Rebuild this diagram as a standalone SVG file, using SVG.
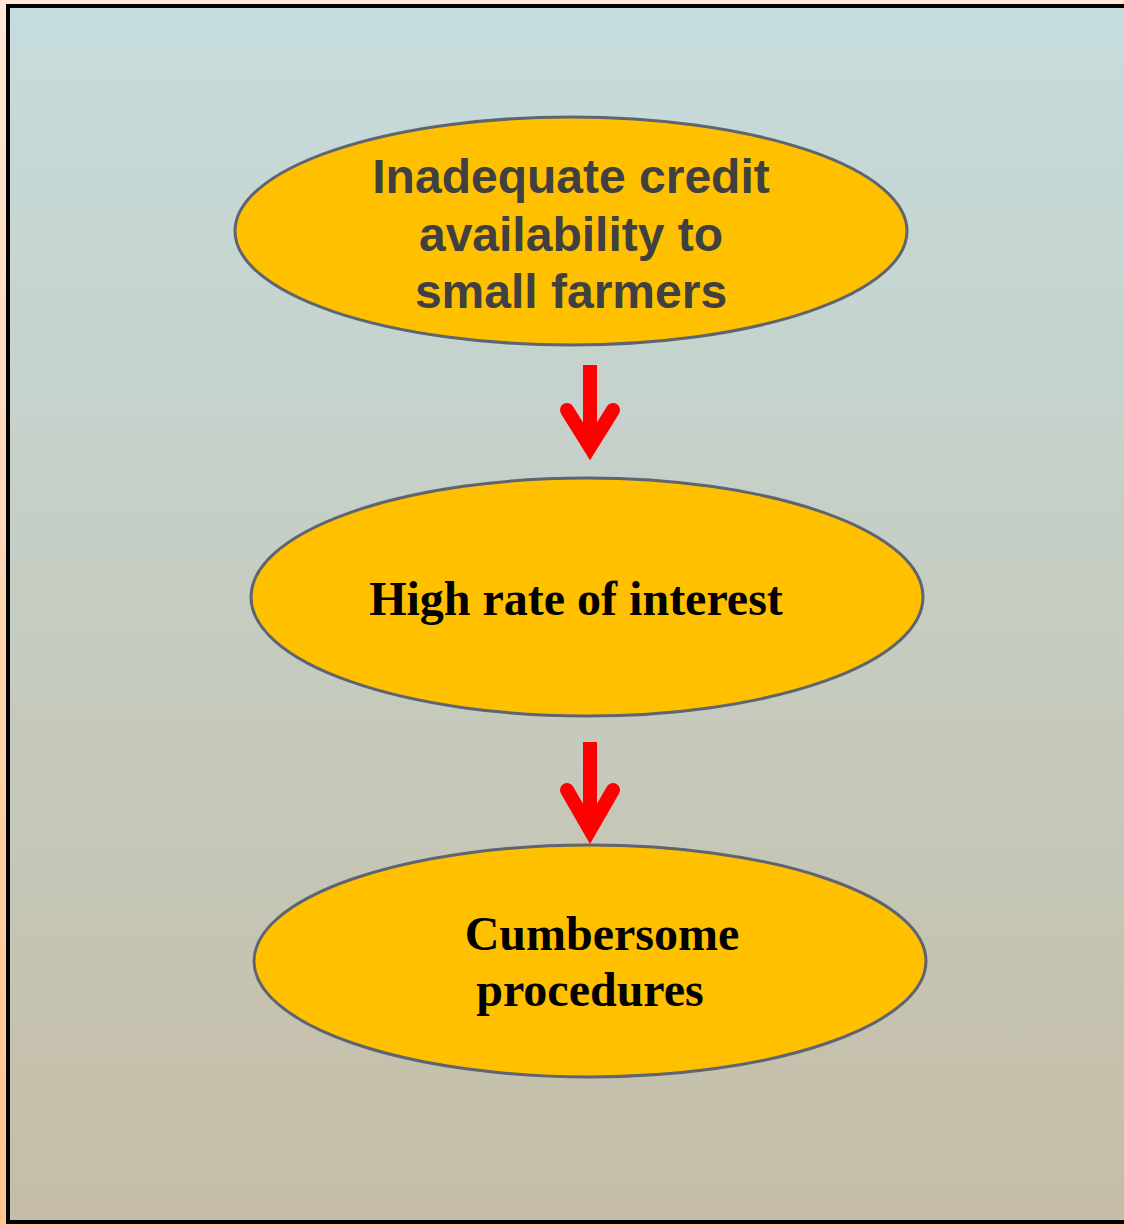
<svg xmlns="http://www.w3.org/2000/svg" width="1124" height="1225" viewBox="0 0 1124 1225">
  <defs>
    <linearGradient id="outer" x1="0" y1="0" x2="0" y2="1">
      <stop offset="0" stop-color="#FFE6D6"/>
      <stop offset="1" stop-color="#FFC58C"/>
    </linearGradient>
    <linearGradient id="panel" x1="0" y1="0" x2="0" y2="1">
      <stop offset="0" stop-color="#C6DCDD"/>
      <stop offset="1" stop-color="#C5BDA6"/>
    </linearGradient>
    <style>
      .node { fill: #FFC000; stroke: #5E6470; stroke-width: 3; }
      .sans { font-family: "Liberation Sans", Arial, sans-serif; font-weight: bold; font-size: 48px; fill: #404040; text-anchor: middle; }
      .serif { font-family: "Liberation Serif", "Times New Roman", serif; font-weight: bold; font-size: 48px; fill: #000000; text-anchor: middle; }
      .arrow { fill: none; stroke: #FF0000; stroke-width: 14; }
    </style>
  </defs>
  <rect x="0" y="0" width="1124" height="1225" fill="url(#outer)"/>
  <rect x="8" y="6" width="1122" height="1216" fill="url(#panel)" stroke="#000000" stroke-width="4"/>

  <g id="connectors">
    <g id="arrow1">
      <path class="arrow" d="M590,365 V444" stroke-linecap="butt"/>
      <path class="arrow" d="M567,410 L590,447 L613,410" stroke-linecap="round" stroke-linejoin="miter" stroke-miterlimit="10"/>
    </g>
    <g id="arrow2">
      <path class="arrow" d="M590,742 V826" stroke-linecap="butt"/>
      <path class="arrow" d="M567,790 L590,830 L613,790" stroke-linecap="round" stroke-linejoin="miter" stroke-miterlimit="10"/>
    </g>
  </g>

  <g id="node1">
    <ellipse class="node" cx="571" cy="231" rx="336" ry="114"/>
    <text class="sans" x="571" y="193">Inadequate credit</text>
    <text class="sans" x="571" y="251">availability to</text>
    <text class="sans" x="571" y="308">small farmers</text>
  </g>
  <g id="node2">
    <ellipse class="node" cx="587" cy="597" rx="336" ry="119"/>
    <text class="serif" x="576" y="615">High rate of interest</text>
  </g>
  <g id="node3">
    <ellipse class="node" cx="590" cy="961" rx="336" ry="116"/>
    <text class="serif" x="602" y="950">Cumbersome</text>
    <text class="serif" x="590" y="1006">procedures</text>
  </g>
</svg>
